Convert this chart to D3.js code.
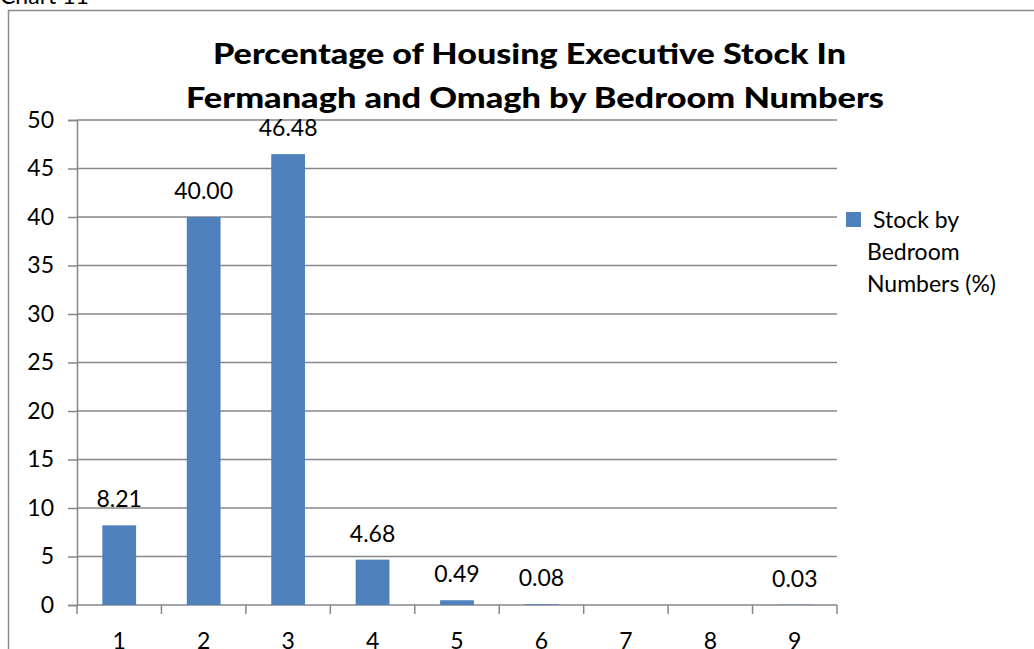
<!DOCTYPE html>
<html>
<head>
<meta charset="utf-8">
<script src="https://cdn.jsdelivr.net/npm/d3@7"></script>
<style>
    html, body { margin: 0; padding: 0; background: #ffffff; overflow: hidden; }
    svg { display: block; font-family: Lato, "Liberation Sans", sans-serif; }
</style>
</head>
<body>
<div class="Chart"></div>
<script>

const categories = ["1", "2", "3", "4", "5", "6", "7", "8", "9"];
const stock_values = [8.21, 40.00, 46.48, 4.68, 0.49, 0.08, null, null, 0.03];
const y_ticks = [0, 5, 10, 15, 20, 25, 30, 35, 40, 45, 50];
const title_lines = [
    "Percentage of Housing Executive Stock In",
    "Fermanagh and Omagh by Bedroom Numbers"
];
const legend_lines = ["Stock by", "Bedroom", "Numbers (%)"];

const width = 1034;
const height = 649;
const plot = {left: 77, right: 837, top: 120, bottom: 605};
const bar_color = "#4f81bd";
const grid_color = "#878787";

const svg = d3.select(".Chart")
    .append("svg")
    .attr("width", width)
    .attr("height", height);

// frame of the embedded chart, cut by the page edges
svg.append("rect")
    .attr("x", 8.5)
    .attr("y", 10.5)
    .attr("width", width + 20)
    .attr("height", height + 20)
    .attr("fill", "none")
    .attr("stroke", "#8a8a8a")
    .attr("stroke-width", 1.5);

svg.append("text")
    .attr("x", 0)
    .attr("y", 4)
    .style("font-size", "23px")
    .text("Chart 11");

const x_axis = d3.scaleBand()
    .domain(categories)
    .range([plot.left, plot.right])
    .paddingInner(0.6)
    .paddingOuter(0.3);

const y_axis = d3.scaleLinear()
    .domain([0, 50])
    .range([plot.bottom, plot.top]);

// gridlines
svg.append("g")
    .selectAll("line")
    .data(y_ticks.filter(d => d > 0))
    .join("line")
    .attr("x1", plot.left)
    .attr("x2", plot.right)
    .attr("y1", d => y_axis(d))
    .attr("y2", d => y_axis(d))
    .attr("stroke", grid_color)
    .attr("stroke-width", 1.5);

// y axis
const y_g = svg.append("g")
    .attr("transform", `translate(${plot.left},0)`)
    .call(d3.axisLeft(y_axis).tickValues(y_ticks).tickSize(9).tickPadding(14));
y_g.select(".domain").attr("stroke", grid_color).attr("stroke-width", 1.5);
y_g.selectAll(".tick line").attr("stroke", grid_color).attr("stroke-width", 1.5);
y_g.selectAll(".tick text")
    .attr("fill", "#000")
    .style("font-family", "Lato, sans-serif")
    .style("font-size", "23px");

// x axis: ticks sit between the categories
const step = x_axis.step();
const boundaries = d3.range(categories.length + 1).map(i => plot.left + i * step);

const x_g = svg.append("g");
x_g.append("line")
    .attr("x1", plot.left)
    .attr("x2", plot.right)
    .attr("y1", plot.bottom)
    .attr("y2", plot.bottom)
    .attr("stroke", grid_color)
    .attr("stroke-width", 1.5);
x_g.selectAll(".XTick")
    .data(boundaries)
    .join("line")
    .attr("class", "XTick")
    .attr("x1", d => d)
    .attr("x2", d => d)
    .attr("y1", plot.bottom)
    .attr("y2", plot.bottom + 9)
    .attr("stroke", grid_color)
    .attr("stroke-width", 1.5);
x_g.selectAll(".XLabel")
    .data(categories)
    .join("text")
    .attr("class", "XLabel")
    .attr("x", d => x_axis(d) + x_axis.bandwidth() / 2)
    .attr("y", plot.bottom + 44)
    .attr("text-anchor", "middle")
    .style("font-size", "23px")
    .text(d => d);

// bars
const bar_data = categories.map((c, i) => ({category: c, value: stock_values[i]}))
    .filter(d => d.value !== null);

svg.append("g")
    .selectAll("rect")
    .data(bar_data)
    .join("rect")
    .attr("x", d => x_axis(d.category))
    .attr("y", d => y_axis(d.value))
    .attr("width", x_axis.bandwidth())
    .attr("height", d => plot.bottom - y_axis(d.value))
    .attr("fill", bar_color);

// data labels
svg.append("g")
    .selectAll("text")
    .data(bar_data)
    .join("text")
    .attr("x", d => x_axis(d.category) + x_axis.bandwidth() / 2)
    .attr("y", d => y_axis(d.value) - 18)
    .attr("text-anchor", "middle")
    .style("font-size", "23px")
    .text(d => d.value.toFixed(2));

// title
const title_x = [213, 186];
const title_width = [633, 698];
const title_y = [64, 108];
svg.append("g")
    .selectAll("text")
    .data(title_lines)
    .join("text")
    .attr("x", (d, i) => title_x[i])
    .attr("y", (d, i) => title_y[i])
    .attr("textLength", (d, i) => title_width[i])
    .attr("lengthAdjust", "spacingAndGlyphs")
    .style("font-size", "29px")
    .style("font-weight", "900")
    .text(d => d);

// legend
const legend = svg.append("g");
legend.append("rect")
    .attr("x", 846)
    .attr("y", 212)
    .attr("width", 15)
    .attr("height", 15)
    .attr("fill", bar_color);
legend.selectAll("text")
    .data(legend_lines)
    .join("text")
    .attr("x", (d, i) => i === 0 ? 873 : 867)
    .attr("y", (d, i) => 228 + i * 32)
    .style("font-size", "23px")
    .text(d => d);

</script>
</body>
</html>
